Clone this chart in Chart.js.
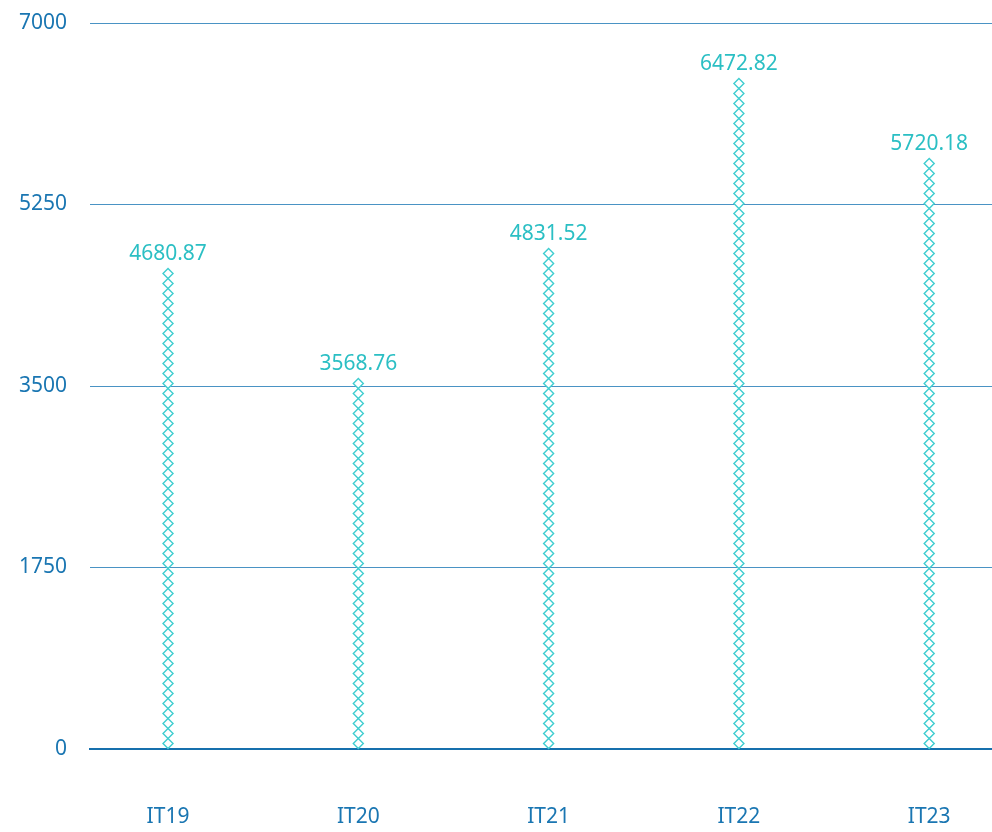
<!DOCTYPE html>
<html>
<head>
<meta charset="utf-8">
<script src="https://cdn.jsdelivr.net/npm/chart.js@4/dist/chart.umd.min.js"></script>
<style>
  html, body { margin: 0; padding: 0; background: #fff; }
  #wrap { width: 992px; height: 832px; }
</style>
</head>
<body>
<div id="wrap"><canvas id="chart"></canvas></div>
<script>
const categories = ['IT19', 'IT20', 'IT21', 'IT22', 'IT23'];
const values = [4680.87, 3568.76, 4831.52, 6472.82, 5720.18];
const yTicks = [0, 1750, 3500, 5250, 7000];

const blue = '#1a76b2';
const teal = '#2bbfc4';
const fontFamily = '"Noto Sans", "Open Sans", sans-serif';

// draws the stacked diamonds and the value labels on top of each bar
const diamondBars = {
    id: 'diamondBars',
    afterDatasetsDraw(chart) {
        const ctx = chart.ctx;
        const meta = chart.getDatasetMeta(0);
        const period = 10;
        const half = 5;
        meta.data.forEach((bar, i) => {
            const n = Math.round((bar.base - bar.y) / period);
            ctx.save();
            ctx.strokeStyle = '#3fcdd0';
            ctx.lineWidth = 1.4;
            ctx.fillStyle = '#fff';
            for (let k = 0; k < n; k++) {
                const cy = bar.base - period * (k + 0.5);
                ctx.beginPath();
                ctx.moveTo(bar.x, cy - half);
                ctx.lineTo(bar.x + half, cy);
                ctx.lineTo(bar.x, cy + half);
                ctx.lineTo(bar.x - half, cy);
                ctx.closePath();
                ctx.fill();
                ctx.stroke();
            }
            const top = bar.base - n * period;
            ctx.fillStyle = teal;
            ctx.font = '21px ' + fontFamily;
            ctx.textAlign = 'center';
            ctx.textBaseline = 'alphabetic';
            ctx.fillText(values[i].toFixed(2), bar.x, top - 9);
            ctx.restore();
        });
    }
};

new Chart(document.getElementById('chart'), {
    type: 'bar',
    data: {
        datasets: [{
            data: categories.map((c, i) => ({ x: i, y: values[i] })),
            backgroundColor: 'rgba(0,0,0,0)',
            borderWidth: 0
        }]
    },
    options: {
        responsive: true,
        maintainAspectRatio: false,
        animation: false,
        layout: { padding: { top: 23, right: 0, left: 0, bottom: 0 } },
        plugins: {
            legend: { display: false },
            tooltip: { enabled: false }
        },
        scales: {
            x: {
                type: 'linear',
                offset: false,
                min: -0.41,
                max: 4.33,
                afterBuildTicks: (scale) => {
                    scale.ticks = categories.map((c, i) => ({ value: i }));
                },
                afterFit: (scale) => {
                    scale.height = 83;
                    scale.paddingLeft = 0;
                    scale.paddingRight = 0;
                },
                ticks: {
                    callback: (v) => categories[v],
                    color: blue,
                    font: { size: 21, family: fontFamily },
                    padding: 55,
                    maxRotation: 0,
                    autoSkip: false
                },
                grid: { display: false, drawTicks: false },
                border: { display: true, color: '#1670ad', width: 2 }
            },
            y: {
                min: 0,
                max: 7000,
                afterBuildTicks: (scale) => {
                    scale.ticks = yTicks.map(v => ({ value: v }));
                },
                afterFit: (scale) => {
                    scale.width = 90;
                    scale.paddingTop = 0;
                    scale.paddingBottom = 0;
                },
                ticks: {
                    callback: (v) => String(v),
                    color: blue,
                    font: { size: 21, family: fontFamily },
                    padding: 23
                },
                grid: { color: '#4a93c4', lineWidth: 1, drawTicks: false },
                border: { display: false }
            }
        }
    },
    plugins: [diamondBars]
});
</script>
</body>
</html>
